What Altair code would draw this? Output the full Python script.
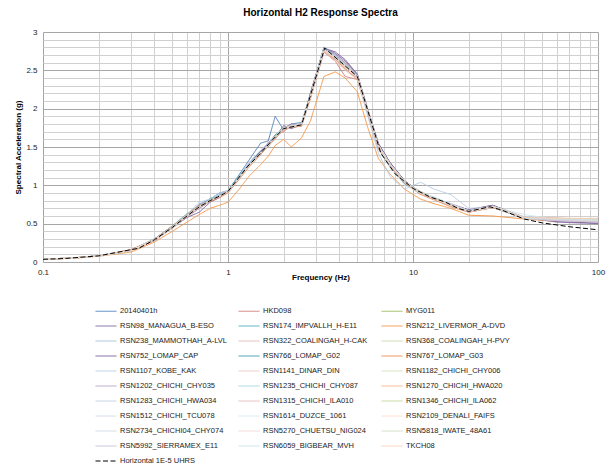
import altair as alt
import pandas as pd

# Frequency grid (Hz) used by the recorded spectra
freq = [0.1, 0.15, 0.2, 0.3, 0.4, 0.5, 0.6, 0.7, 0.8, 0.9, 1.0, 1.15, 1.3, 1.5, 1.65, 1.8, 2.0, 2.2,
        2.5, 2.8, 3.3, 3.8, 4.3, 5.0, 5.7, 6.5, 7.5, 9.0, 11.0, 13.0, 16.0, 20.0, 27.0, 40.0, 60.0, 100.0]

s_20140401h = [0.036,0.056,0.082,0.15,0.30,0.46,0.62,0.75,0.82,0.90,0.93,1.14,1.33,1.55,1.58,1.90,1.72,1.80,1.82,2.20,2.80,2.70,2.58,2.40,1.95,1.50,1.26,1.04,0.90,0.84,0.75,0.67,0.73,0.57,0.53,0.51]
s_HKD098 = [0.034,0.054,0.079,0.15,0.28,0.44,0.59,0.70,0.79,0.85,0.91,1.09,1.27,1.40,1.54,1.66,1.70,1.78,1.80,2.15,2.74,2.62,2.42,2.38,1.96,1.50,1.27,1.05,0.89,0.82,0.73,0.65,0.71,0.57,0.54,0.52]
s_MYG011 = [0.035,0.055,0.081,0.15,0.29,0.46,0.61,0.73,0.81,0.87,0.93,1.11,1.27,1.44,1.52,1.64,1.76,1.75,1.80,2.20,2.78,2.66,2.60,2.44,1.98,1.53,1.29,1.06,0.91,0.84,0.75,0.67,0.72,0.58,0.55,0.53]
s_RSN98 = [0.035,0.054,0.080,0.16,0.29,0.45,0.58,0.65,0.78,0.84,0.92,1.12,1.25,1.43,1.56,1.62,1.75,1.80,1.78,2.22,2.79,2.72,2.62,2.45,1.99,1.55,1.30,1.06,0.90,0.83,0.76,0.68,0.74,0.58,0.52,0.50]
s_RSN174 = [0.036,0.055,0.081,0.15,0.30,0.47,0.63,0.70,0.83,0.85,0.93,1.13,1.28,1.45,1.50,1.66,1.73,1.76,1.79,2.16,2.76,2.65,2.55,2.43,1.94,1.48,1.24,1.02,0.89,0.83,0.74,0.66,0.71,0.57,0.55,0.54]
s_RSN212 = [0.033,0.050,0.075,0.13,0.26,0.40,0.52,0.62,0.70,0.74,0.78,0.95,1.12,1.27,1.38,1.52,1.60,1.50,1.62,1.85,2.42,2.48,2.40,2.22,1.75,1.35,1.15,0.95,0.82,0.76,0.70,0.61,0.60,0.56,0.53,0.52]
s_RSN238 = [0.035,0.056,0.080,0.15,0.29,0.44,0.60,0.76,0.80,0.88,0.92,1.08,1.26,1.40,1.53,1.60,1.76,1.78,1.81,2.19,2.80,2.70,2.55,2.41,1.96,1.52,1.27,1.04,0.92,0.84,0.74,0.66,0.73,0.58,0.56,0.55]
s_RSN322 = [0.035,0.055,0.080,0.15,0.29,0.45,0.59,0.72,0.79,0.86,0.91,1.10,1.25,1.42,1.55,1.62,1.73,1.79,1.78,2.17,2.76,2.66,2.52,2.40,1.96,1.51,1.28,1.05,0.90,0.83,0.73,0.66,0.72,0.57,0.54,0.53]
s_RSN368 = [0.035,0.055,0.081,0.15,0.29,0.46,0.60,0.71,0.81,0.86,0.92,1.11,1.27,1.43,1.52,1.64,1.74,1.77,1.80,2.18,2.78,2.68,2.57,2.43,1.97,1.52,1.28,1.05,0.91,0.84,0.74,0.67,0.72,0.57,0.55,0.54]
s_RSN752 = [0.035,0.055,0.080,0.15,0.28,0.45,0.60,0.73,0.80,0.87,0.92,1.10,1.28,1.44,1.54,1.63,1.78,1.74,1.79,2.20,2.79,2.74,2.64,2.45,1.98,1.54,1.30,1.06,0.90,0.84,0.75,0.68,0.74,0.58,0.53,0.51]
s_RSN766 = [0.035,0.055,0.080,0.15,0.29,0.45,0.61,0.72,0.81,0.86,0.93,1.11,1.26,1.42,1.53,1.65,1.75,1.77,1.78,2.17,2.77,2.66,2.56,2.42,1.96,1.51,1.27,1.04,0.90,0.83,0.74,0.66,0.72,0.57,0.56,0.55]
s_RSN767 = [0.035,0.056,0.081,0.16,0.30,0.47,0.62,0.74,0.79,0.84,0.90,1.08,1.24,1.40,1.51,1.61,1.72,1.76,1.77,2.15,2.74,2.64,2.52,2.38,1.93,1.48,1.25,1.03,0.88,0.81,0.72,0.65,0.71,0.58,0.57,0.56]
s_RSN1107 = [0.035,0.055,0.080,0.15,0.30,0.46,0.62,0.78,0.82,0.90,0.93,1.12,1.30,1.46,1.55,1.64,1.76,1.77,1.80,2.19,2.78,2.70,2.58,2.40,1.90,1.42,1.12,0.95,1.04,0.95,0.88,0.70,0.72,0.59,0.57,0.56]
s_RSN1141 = [0.035,0.055,0.080,0.15,0.29,0.45,0.60,0.71,0.80,0.85,0.91,1.09,1.25,1.41,1.52,1.62,1.72,1.76,1.78,2.16,2.75,2.62,2.50,2.38,1.95,1.50,1.26,1.04,0.89,0.82,0.73,0.65,0.71,0.57,0.55,0.54]
s_RSN1182 = [0.035,0.055,0.080,0.15,0.29,0.45,0.61,0.72,0.81,0.86,0.92,1.11,1.27,1.43,1.53,1.64,1.75,1.78,1.79,2.18,2.77,2.68,2.57,2.42,1.97,1.52,1.28,1.05,0.91,0.84,0.75,0.67,0.73,0.58,0.56,0.55]
s_RSN1202 = [0.035,0.055,0.080,0.15,0.29,0.45,0.60,0.70,0.80,0.86,0.92,1.10,1.26,1.42,1.53,1.63,1.74,1.77,1.79,2.18,2.78,2.70,2.60,2.44,1.98,1.53,1.29,1.05,0.90,0.84,0.75,0.67,0.73,0.58,0.54,0.52]
s_RSN1235 = [0.035,0.055,0.080,0.15,0.29,0.46,0.61,0.73,0.80,0.87,0.92,1.11,1.27,1.43,1.52,1.64,1.74,1.76,1.80,2.19,2.79,2.69,2.58,2.43,1.97,1.52,1.27,1.04,0.90,0.83,0.74,0.66,0.72,0.57,0.55,0.54]
s_RSN1270 = [0.035,0.055,0.080,0.15,0.29,0.45,0.60,0.72,0.80,0.86,0.92,1.10,1.26,1.42,1.53,1.63,1.74,1.77,1.79,2.17,2.76,2.66,2.55,2.41,1.96,1.51,1.27,1.04,0.90,0.83,0.74,0.66,0.72,0.58,0.57,0.56]
s_RSN1283 = [0.035,0.055,0.080,0.15,0.29,0.45,0.60,0.72,0.80,0.86,0.92,1.10,1.27,1.42,1.54,1.62,1.74,1.78,1.79,2.18,2.77,2.68,2.57,2.42,1.97,1.52,1.28,1.05,0.90,0.83,0.74,0.66,0.72,0.57,0.54,0.53]
s_RSN1315 = [0.035,0.055,0.080,0.15,0.29,0.45,0.60,0.71,0.80,0.86,0.92,1.10,1.26,1.42,1.53,1.63,1.73,1.77,1.79,2.18,2.77,2.66,2.56,2.42,1.97,1.52,1.28,1.05,0.90,0.83,0.74,0.66,0.72,0.57,0.55,0.54]
s_RSN1346 = [0.035,0.055,0.080,0.15,0.29,0.45,0.61,0.72,0.80,0.86,0.92,1.10,1.26,1.42,1.53,1.63,1.74,1.77,1.79,2.18,2.77,2.67,2.56,2.42,1.97,1.52,1.28,1.05,0.90,0.83,0.74,0.66,0.72,0.57,0.56,0.55]
s_RSN1512 = [0.035,0.055,0.080,0.15,0.29,0.45,0.60,0.72,0.80,0.86,0.92,1.10,1.26,1.42,1.53,1.63,1.74,1.77,1.79,2.18,2.78,2.68,2.57,2.43,1.97,1.52,1.28,1.05,0.90,0.83,0.74,0.66,0.73,0.58,0.55,0.53]
s_RSN1614 = [0.035,0.055,0.080,0.15,0.29,0.45,0.60,0.72,0.80,0.86,0.92,1.10,1.26,1.42,1.53,1.63,1.74,1.77,1.79,2.18,2.77,2.67,2.56,2.42,1.97,1.50,1.24,1.00,0.90,0.85,0.76,0.67,0.72,0.62,0.55,0.54]
s_RSN2109 = [0.035,0.055,0.080,0.15,0.29,0.45,0.60,0.72,0.80,0.86,0.92,1.10,1.26,1.42,1.53,1.63,1.74,1.77,1.79,2.18,2.76,2.66,2.55,2.42,1.97,1.52,1.28,1.05,0.90,0.83,0.74,0.66,0.72,0.57,0.56,0.56]
s_RSN2734 = [0.035,0.055,0.080,0.15,0.29,0.45,0.60,0.72,0.80,0.86,0.92,1.10,1.26,1.42,1.53,1.63,1.74,1.77,1.79,2.18,2.77,2.68,2.57,2.42,1.97,1.52,1.28,1.05,0.90,0.83,0.74,0.66,0.72,0.57,0.54,0.52]
s_RSN5270 = [0.035,0.055,0.080,0.15,0.29,0.45,0.60,0.72,0.80,0.86,0.92,1.10,1.26,1.42,1.53,1.63,1.74,1.77,1.79,2.17,2.76,2.66,2.55,2.41,1.96,1.51,1.28,1.05,0.90,0.83,0.74,0.66,0.72,0.57,0.55,0.53]
s_RSN5818 = [0.035,0.055,0.080,0.15,0.29,0.45,0.60,0.72,0.80,0.86,0.92,1.10,1.26,1.42,1.53,1.63,1.74,1.77,1.79,2.18,2.77,2.67,2.56,2.42,1.97,1.52,1.28,1.05,0.90,0.83,0.74,0.66,0.72,0.58,0.56,0.55]
s_RSN5992 = [0.035,0.055,0.080,0.15,0.29,0.45,0.60,0.72,0.80,0.86,0.92,1.10,1.26,1.42,1.53,1.63,1.74,1.77,1.79,2.18,2.78,2.69,2.58,2.43,1.97,1.52,1.28,1.05,0.90,0.83,0.74,0.66,0.72,0.57,0.54,0.52]
s_RSN6059 = [0.035,0.055,0.080,0.15,0.29,0.45,0.60,0.72,0.80,0.86,0.92,1.10,1.26,1.42,1.53,1.63,1.74,1.77,1.79,2.18,2.77,2.67,2.56,2.42,1.97,1.52,1.28,1.05,0.90,0.83,0.74,0.66,0.72,0.57,0.56,0.55]
s_TKCH08 = [0.035,0.055,0.080,0.15,0.29,0.45,0.60,0.72,0.80,0.86,0.92,1.10,1.26,1.42,1.53,1.63,1.74,1.77,1.79,2.17,2.76,2.66,2.55,2.41,1.96,1.51,1.27,1.04,0.90,0.83,0.74,0.66,0.72,0.58,0.57,0.57]

# Target spectrum (Horizontal 1E-5 UHRS)
uhrs_freq = [0.1, 0.13, 0.2, 0.33, 0.4, 0.5, 0.6, 0.7, 0.8, 0.9, 1.0, 1.27, 1.5, 1.75, 2.0, 2.5, 3.33,
             5.0, 6.7, 8.0, 10.0, 12.3, 15.0, 17.5, 20.0, 26.0, 30.0, 40.0, 50.0, 70.0, 100.0]
uhrs_sa = [0.035, 0.045, 0.08, 0.18, 0.29, 0.45, 0.60, 0.72, 0.80, 0.86, 0.92, 1.24, 1.42, 1.60, 1.74,
           1.79, 2.79, 2.42, 1.42, 1.15, 0.96, 0.85, 0.78, 0.70, 0.66, 0.72, 0.68, 0.56, 0.51, 0.46, 0.42]

record_names = ["20140401h", "HKD098", "MYG011", "RSN98_MANAGUA_B-ESO", "RSN174_IMPVALLH_H-E11",
                "RSN212_LIVERMOR_A-DVD", "RSN238_MAMMOTHAH_A-LVL", "RSN322_COALINGAH_H-CAK",
                "RSN368_COALINGAH_H-PVY", "RSN752_LOMAP_CAP", "RSN766_LOMAP_G02", "RSN767_LOMAP_G03",
                "RSN1107_KOBE_KAK", "RSN1141_DINAR_DIN", "RSN1182_CHICHI_CHY006", "RSN1202_CHICHI_CHY035",
                "RSN1235_CHICHI_CHY087", "RSN1270_CHICHI_HWA020", "RSN1283_CHICHI_HWA034",
                "RSN1315_CHICHI_ILA010", "RSN1346_CHICHI_ILA062", "RSN1512_CHICHI_TCU078",
                "RSN1614_DUZCE_1061", "RSN2109_DENALI_FAIFS", "RSN2734_CHICHI04_CHY074",
                "RSN5270_CHUETSU_NIG024", "RSN5818_IWATE_48A61", "RSN5992_SIERRAMEX_E11",
                "RSN6059_BIGBEAR_MVH", "TKCH08"]
record_values = [s_20140401h, s_HKD098, s_MYG011, s_RSN98, s_RSN174, s_RSN212, s_RSN238, s_RSN322,
                 s_RSN368, s_RSN752, s_RSN766, s_RSN767, s_RSN1107, s_RSN1141, s_RSN1182, s_RSN1202,
                 s_RSN1235, s_RSN1270, s_RSN1283, s_RSN1315, s_RSN1346, s_RSN1512, s_RSN1614,
                 s_RSN2109, s_RSN2734, s_RSN5270, s_RSN5818, s_RSN5992, s_RSN6059, s_TKCH08]
uhrs_name = "Horizontal 1E-5 UHRS"

record_colors = ["#4F81BD", "#D47A78", "#9BBB59",
                 "#8064A2", "#4BACC6", "#F79646",
                 "#A7BFDE", "#E6B9B8", "#C9DBA9",
                 "#7A5C9A", "#3E9BAF", "#E98A4C",
                 "#B9CDE5", "#EBC5C5", "#D3E0BB",
                 "#B3A2C7", "#A5D5E2", "#F8B48A",
                 "#C0CCE0", "#E6B9B8", "#C3D69B",
                 "#D0D8E8", "#D6EAF0", "#FCDCCB",
                 "#D0D8E8", "#F2D4D4", "#D0DCC0",
                 "#C8C0D8", "#C5E3EB", "#FAD0B8"]

rows = []
for name, vals in zip(record_names, record_values):
    for f, v in zip(freq, vals):
        rows.append({"series": name, "f": f, "sa": v})
rec_df = pd.DataFrame(rows)
uhrs_df = pd.DataFrame({"series": uhrs_name, "f": uhrs_freq, "sa": uhrs_sa})

domain = record_names + [uhrs_name]
colors = record_colors + ["#000000"]
dashes = [[1, 0]] * len(record_names) + [[5, 2.5]]
widths = [1] * len(record_names) + [2.5]

FONT = "Liberation Sans"
x_vals = [0.1, 0.2, 0.3, 0.4, 0.5, 0.6, 0.7, 0.8, 0.9, 1, 2, 3, 4, 5, 6, 7, 8, 9,
          10, 20, 30, 40, 50, 60, 70, 80, 90, 100]
y_vals = [0, 0.1, 0.2, 0.3, 0.4, 0.5, 0.6, 0.7, 0.8, 0.9, 1, 1.1, 1.2, 1.3, 1.4, 1.5, 1.6, 1.7, 1.8,
          1.9, 2, 2.1, 2.2, 2.3, 2.4, 2.5, 2.6, 2.7, 2.8, 2.9, 3]

x_enc = alt.X("f:Q", title="Frequency (Hz)",
              scale=alt.Scale(type="log", domain=[0.1, 100], nice=False),
              axis=alt.Axis(values=x_vals, format="~g",
                            labelExpr="indexof([0.1,1,10,100], datum.value) >= 0 ? datum.label : ''",
                            gridColor=alt.condition("indexof([0.1,1,10,100], datum.value) >= 0",
                                                    alt.value("#a6a6a6"), alt.value("#d0d0d0")),
                            ticks=False, domain=False, labelFlush=False, labelPadding=6,
                            titlePadding=-3))
y_enc = alt.Y("sa:Q", title="Spectral Acceleration (g)",
              scale=alt.Scale(domain=[0, 3], nice=False),
              axis=alt.Axis(values=y_vals, format="~g",
                            labelExpr="round(datum.value*10) % 5 == 0 ? datum.label : ''",
                            gridColor=alt.condition("round(datum.value*10) % 5 == 0",
                                                    alt.value("#a6a6a6"), alt.value("#d0d0d0")),
                            ticks=False, domain=False, labelPadding=6, titlePadding=3))

legend = alt.Legend(title=None, orient="none", legendX=52, legendY=268, columns=3,
                    direction="horizontal", symbolLimit=0,
                    symbolType="stroke", symbolSize=441, labelFontSize=7.5, labelFont=FONT,
                    labelColor="#222", gridAlign="all", columnPadding=9, rowPadding=-4,
                    labelOffset=3, labelLimit=200)

color_enc = alt.Color("series:N", scale=alt.Scale(domain=domain, range=colors), legend=legend)
dash_enc = alt.StrokeDash("series:N", scale=alt.Scale(domain=domain, range=dashes), legend=legend)
width_enc = alt.StrokeWidth("series:N", scale=alt.Scale(domain=domain, range=widths), legend=legend)

records = alt.Chart(rec_df).mark_line(clip=True).encode(
    x=x_enc, y=y_enc, color=color_enc, strokeDash=dash_enc, strokeWidth=width_enc,
    detail="series:N")
target = alt.Chart(uhrs_df).mark_line(clip=True).encode(
    x=x_enc, y=y_enc, color=color_enc, strokeDash=dash_enc, strokeWidth=width_enc)

chart = alt.layer(records, target).properties(
    width=555, height=230,
    title=alt.TitleParams("Horizontal H2 Response Spectra", font=FONT, fontSize=10,
                          fontWeight="bold", color="#000", offset=10),
    autosize=alt.AutoSizeParams(type="none"),
    padding={"left": 43, "top": 32, "right": 10, "bottom": 204},
).configure_axis(
    labelFont=FONT, labelFontSize=8, labelColor="#222",
    titleFont=FONT, titleFontSize=8, titleFontWeight="bold", titleColor="#000",
).configure_view(stroke=None)

chart.save("out.html", embed_options={"renderer": "svg", "actions": False})
